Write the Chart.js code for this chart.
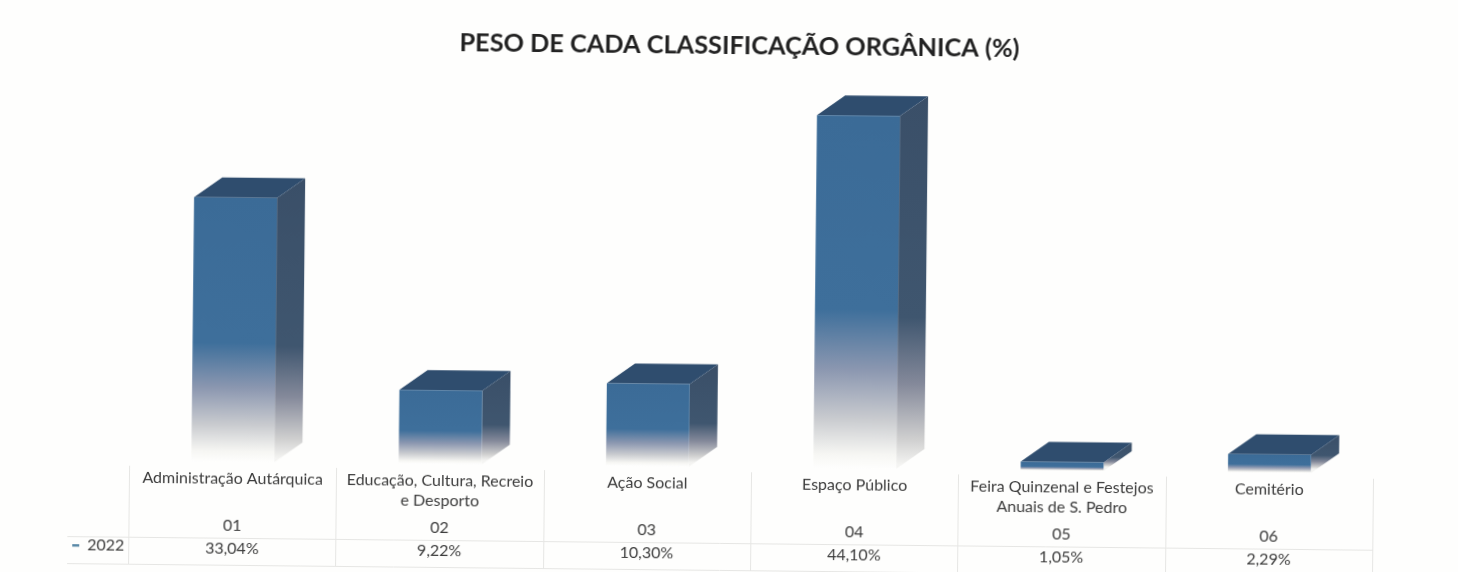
<!DOCTYPE html>
<html lang="pt">
<head>
<meta charset="utf-8">
<title>Peso de cada classificação orgânica</title>
<script src="https://cdn.jsdelivr.net/npm/chart.js@4"></script>
<style>
html,body{margin:0;padding:0;background:#fefefd;overflow:hidden}
#wrap{width:1458px;height:572px}
canvas{display:block;transform:rotate(0.6deg);transform-origin:50% 50%;filter:blur(0.5px)}
</style>
</head>
<body>
<div id="wrap"><canvas id="c" width="1458" height="572"></canvas></div>
<script>
const titleText = 'PESO DE CADA CLASSIFICAÇÃO ORGÂNICA (%)';
const seriesName = '2022';
const categories = [
  'Administração Autárquica',
  ['Educação, Cultura, Recreio', 'e Desporto'],
  'Ação Social',
  'Espaço Público',
  ['Feira Quinzenal e Festejos', 'Anuais de S. Pedro'],
  'Cemitério'
];
const codes = ['01', '02', '03', '04', '05', '06'];
const values = [33.04, 9.22, 10.30, 44.10, 1.05, 2.29];

const FONT = 'Lato, "Open Sans", sans-serif';
const TEXT = '#3c3c3c';
const DX = 28, DY = 20;

function frontFill(c, top, base) {
  const g = c.createLinearGradient(0, top, 0, base);
  g.addColorStop(0, '#3b6b97');
  g.addColorStop(0.55, '#3e6f9b');
  g.addColorStop(0.72, '#8b97b0');
  g.addColorStop(0.86, '#c9cbcf');
  g.addColorStop(0.96, '#f6f6f3');
  g.addColorStop(1, '#fefefd');
  return g;
}

const depthPlugin = {
  id: 'depth',
  beforeDatasetsDraw(chart) {
    const c = chart.ctx;
    chart.getDatasetMeta(0).data.forEach(bar => {
      const l = bar.x - bar.width / 2, r = bar.x + bar.width / 2;
      const t = bar.y, b = bar.base;
      bar.options = { ...bar.options, backgroundColor: frontFill(c, t, b) };
      const g = c.createLinearGradient(0, t - DY, 0, b - 4);
      g.addColorStop(0, '#3a4f68');
      g.addColorStop(0.6, '#3f566f');
      g.addColorStop(0.78, '#84899a');
      g.addColorStop(0.93, '#cfcfcf');
      g.addColorStop(1, '#f4f4f2');
      c.fillStyle = g;
      c.beginPath();
      c.moveTo(r, t);
      c.lineTo(r + DX, t - DY);
      c.lineTo(r + DX, b - DY);
      c.lineTo(r, b);
      c.closePath();
      c.fill();
      c.fillStyle = '#2f4d6e';
      c.beginPath();
      c.moveTo(l, t);
      c.lineTo(l + DX, t - DY);
      c.lineTo(r + DX, t - DY);
      c.lineTo(r, t);
      c.closePath();
      c.fill();
    });
  }
};

const tablePlugin = {
  id: 'dataTable',
  afterDraw(chart) {
    const c = chart.ctx, x = chart.scales.x;
    const step = x.getPixelForValue(1) - x.getPixelForValue(0);
    const left = x.getPixelForValue(0) - step / 2;
    const right = x.getPixelForValue(codes.length - 1) + step / 2;
    c.save();
    c.font = 'bold 25.3px ' + FONT;
    c.fillStyle = '#222222';
    c.textAlign = 'center';
    c.textBaseline = 'middle';
    c.fillText(titleText, 737, 46);
    c.strokeStyle = '#e6e6e4';
    c.lineWidth = 1;
    for (let i = 0; i <= codes.length; i++) {
      const px = Math.round(left + i * step) + 0.5;
      c.beginPath(); c.moveTo(px, 472); c.lineTo(px, 571); c.stroke();
    }
    c.beginPath(); c.moveTo(70, 543.5); c.lineTo(right, 543.5); c.stroke();
    c.beginPath(); c.moveTo(70, 570.5); c.lineTo(right, 570.5); c.stroke();
    c.font = '16px ' + FONT;
    c.fillStyle = TEXT;
    codes.forEach((code, i) => {
      const px = x.getPixelForValue(i);
      c.fillText(code, px, 531);
      c.fillText(values[i].toFixed(2).replace('.', ',') + '%', px, 554);
    });
    c.textAlign = 'left';
    c.fillText(seriesName, 90, 552);
    c.fillStyle = '#5b8aa8';
    c.fillRect(75, 551, 7, 2.5);
    c.restore();
  }
};

new Chart(document.getElementById('c'), {
  type: 'bar',
  data: {
    labels: categories,
    datasets: [{
      label: seriesName,
      data: values,
      backgroundColor: '#3e6f9b',
      borderWidth: 0,
      barPercentage: 0.4,
      categoryPercentage: 1
    }]
  },
  plugins: [depthPlugin, tablePlugin],
  options: {
    responsive: false,
    animation: false,
    devicePixelRatio: 1,
    layout: { padding: { left: 131, right: 83, top: 67, bottom: 0 } },
    plugins: {
      legend: { display: false },
      tooltip: { enabled: false },
      title: { display: false }
    },
    scales: {
      x: {
        afterFit(s) { s.height = 105; },
        grid: { display: false },
        border: { display: false },
        ticks: {
          autoSkip: false, maxRotation: 0, minRotation: 0,
          padding: -2, color: TEXT,
          font: { family: FONT, size: 16, lineHeight: 1.3 }
        }
      },
      y: {
        display: false,
        min: 0,
        max: 50
      }
    }
  }
});
</script>
</body>
</html>
